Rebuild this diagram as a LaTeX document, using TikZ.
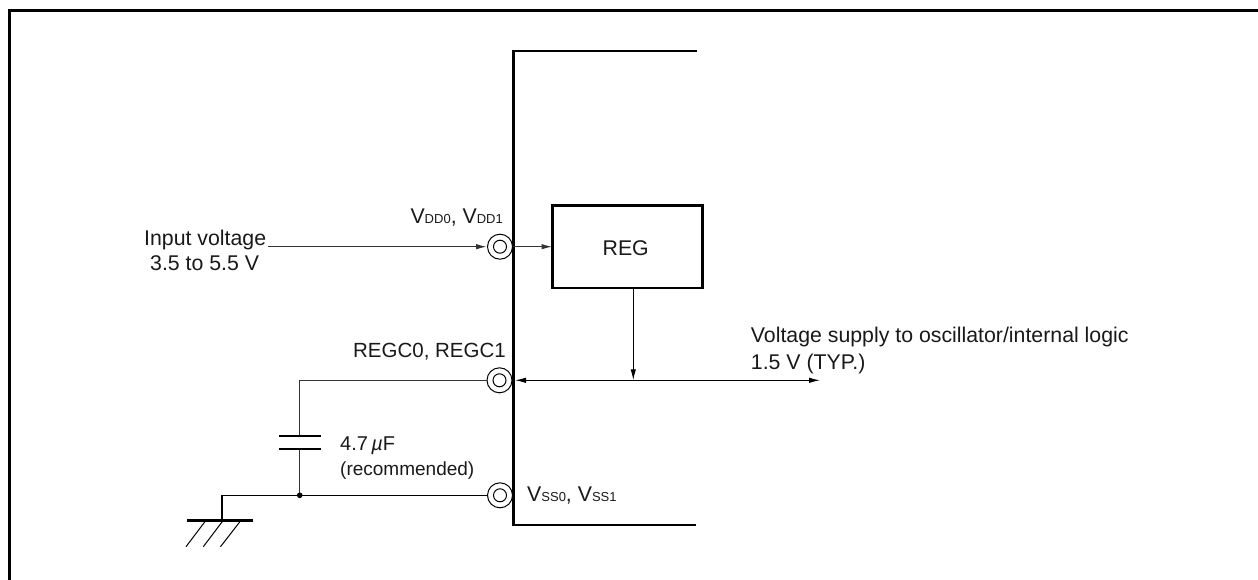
\documentclass[tikz,border=0pt]{standalone}
\usepackage{fontspec}
\setmainfont{Liberation Sans}
\usetikzlibrary{arrows.meta}
\newcommand{\subt}[1]{{\fontsize{13}{15}\selectfont #1}}
\tikzset{
  wire/.style={line width=1.3pt,draw=black!80},
  tip/.style={-{Latex[length=11pt,width=5.5pt]}},
  heavy/.style={line width=2.7pt,line cap=butt,line join=miter},
  pin/.style={circle,draw,line width=1pt,minimum size=25pt,inner sep=0pt,fill=white,
    path picture={\draw[line width=1pt] (path picture bounding box.center) circle[radius=6.5pt];}},
  label/.style={font=\fontsize{21.3}{24}\selectfont,inner sep=0pt,text=black!90},
  lab/.style={label,anchor=base west},
  labr/.style={label,anchor=base east},
  small/.style={font=\fontsize{19}{22}\selectfont},
  plate/.style={line width=2.7pt},
}
\begin{document}
\begin{tikzpicture}[x=1pt,y=-1pt]
\useasboundingbox (0,0) rectangle (1258,580);
% page frame
\draw[line width=3pt] (9.5,580) -- (9.5,10.5) -- (1258,10.5);
% chip outline
\draw[heavy] (697,51) -- (513.5,51) -- (513.5,525) -- (696,525);
% pins and blocks
\node[pin] (vdd) at (500,246.7) {};
\node[pin] (regc) at (499.5,380.3) {};
\node[pin] (vss) at (500,495.3) {};
\node[draw,line width=2.7pt,minimum width=150pt,minimum height=82.5pt,inner sep=0pt,anchor=north west,outer sep=0pt] (reg) at (552.5,205.5) {};
\node[label,anchor=base] (regt) at (625.7,255.7) {REG};
% coordinates
\coordinate (inl) at (268,246.7);
\coordinate (chipin) at (515,380.3);
\coordinate (out) at (820,380.3);
\coordinate (tee) at (633.3,380.3);
\coordinate (regout) at (633.3,288);
\coordinate (capx) at (299.7,380.3);
\coordinate (captop) at (299.7,436);
\coordinate (capbot) at (299.7,449);
\coordinate (dot) at (299.7,495.3);
\coordinate (gndc) at (222,495.3);
\coordinate (gnd) at (222,520.7);
% connectors
\draw[wire,tip] (inl) -- (vdd.west);
\draw[wire,tip] (vdd.east) -- (vdd.east -| reg.west);
\draw[line width=1.1pt,tip] (regout) -- (tee);
\draw[line width=1.1pt,tip] (tee) -- (chipin);
\draw[line width=1.1pt,tip] (tee) -- (out);
\draw[wire] (regc.west) -- (capx) -- (captop);
\draw[wire] (capbot) -- (dot);
\draw[line width=1.2pt] (vss.west) -- (gndc) -- (gnd);
\fill (dot) circle[radius=2.8pt];
% capacitor
\draw[plate] (279,436) -- (321,436);
\draw[plate] (279,449) -- (321,449);
% ground
\draw[plate] (187,520.7) -- (253,520.7);
\draw[line width=1pt] (204.7,522) -- (186,546.7);
\draw[line width=1pt] (222,522) -- (203.3,546.7);
\draw[line width=1pt] (239.7,522) -- (220.5,546.7);
% labels
\node[lab] (t1) at (144,245) {Input voltage};
\node[lab] (t2) at (150,270) {3.5 to 5.5 V};
\node[labr] (t3) at (503,223) {V\subt{DD0}, V\subt{DD1}};
\node[labr,font=\fontsize{20.5}{22}\selectfont] (t4) at (506,357.7) {REGC0, REGC1};
\node[lab] (t5) at (527,501.7) {V\subt{SS0}, V\subt{SS1}};
\node[lab,font=\fontsize{20}{22}\selectfont] (t6) at (340,450.7) {4.7\,{\itshape µ}F};
\node[lab,small] (t7) at (340,475) {(recommended)};
\node[lab] (t8) at (750.7,342.7) {Voltage supply to oscillator/internal logic};
\node[lab] (t9) at (750.7,369.3) {1.5 V (TYP.)};
\end{tikzpicture}
\end{document}
